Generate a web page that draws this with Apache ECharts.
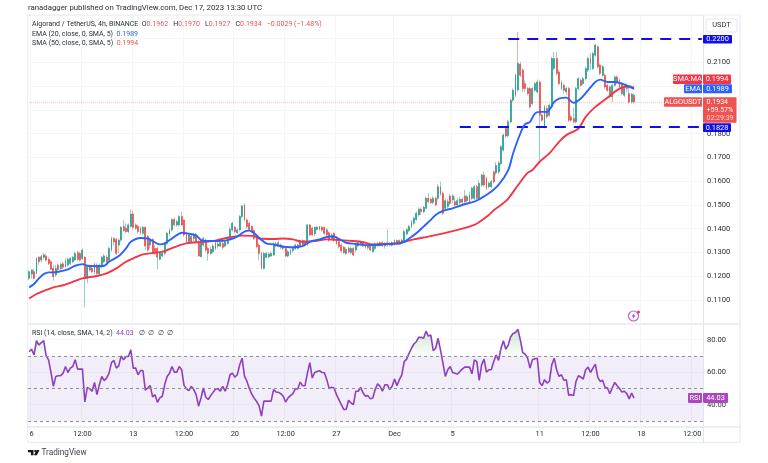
<!DOCTYPE html>
<html><head><meta charset="utf-8">
<style>html,body{margin:0;padding:0;background:#fff}#c{width:768px;height:463px;filter:blur(.3px)}</style>
<script src="https://cdn.jsdelivr.net/npm/echarts@6/dist/echarts.min.js"></script>
</head><body><div id="c"></div>
<script>
const opens=[.1191,.1209,.1219,.1212,.1280,.1268,.1280,.1285,.1271,.1261,
.1233,.1205,.1247,.1233,.1252,.1240,.1247,.1254,.1261,.1268,
.1299,.1296,.1275,.1280,.1191,.1240,.1233,.1219,.1247,.1209,
.1240,.1261,.1280,.1268,.1310,.1359,.1355,.1331,.1352,.1409,
.1402,.1388,.1409,.1462,.1416,.1409,.1402,.1381,.1406,.1367,
.1331,.1355,.1317,.1317,.1271,.1285,.1296,.1338,.1378,.1395,
.1439,.1416,.1416,.1451,.1437,.1381,.1345,.1367,.1359,.1374,
.1345,.1282,.1331,.1352,.1317,.1296,.1303,.1317,.1336,.1327,
.1338,.1327,.1338,.1359,.1395,.1406,.1383,.1395,.1451,.1500,
.1437,.1423,.1409,.1392,.1369,.1331,.1296,.1233,.1280,.1282,
.1285,.1289,.1336,.1327,.1331,.1327,.1317,.1285,.1296,.1308,
.1317,.1317,.1350,.1330,.1347,.1336,.1416,.1402,.1378,.1397,
.1409,.1406,.1406,.1395,.1383,.1355,.1381,.1359,.1345,.1331,
.1322,.1296,.1317,.1299,.1317,.1310,.1327,.1336,.1341,.1331,
.1320,.1325,.1303,.1317,.1338,.1331,.1341,.1327,.1341,.1331,
.1330,.1350,.1338,.1350,.1341,.1350,.1378,.1392,.1409,.1423,
.1439,.1458,.1482,.1472,.1486,.1528,.1524,.1510,.1528,.1528,
.1577,.1549,.1486,.1493,.1538,.1521,.1514,.1500,.1524,.1512,
.1538,.1518,.1542,.1528,.1528,.1577,.1528,.1584,.1626,.1612,
.1577,.1577,.1639,.1635,.1639,.1674,.1731,.1822,.1793,.1850,
.1941,.1962,.1984,.2093,.2068,.2011,.1990,.1990,.1927,.1983,
.1976,.2018,.1878,.1829,.1906,.1878,.1913,.2075,.2117,.2060,
.1990,.2004,.1976,.1990,.1871,.1864,.1850,.1990,.2025,.2011,
.2032,.2068,.2117,.2075,.2131,.2166,.2089,.2046,.2046,.2004,
.1997,.1955,.2004,.2039,.2025,.2011,.1962,.2004,.1969,.1934,.1962];
const closes=[.1219,.1226,.1191,.1275,.1261,.1282,.1289,.1268,.1254,.1229,
.1198,.1233,.1229,.1250,.1238,.1265,.1271,.1275,.1280,.1296,
.1271,.1268,.1310,.1191,.1240,.1226,.1219,.1250,.1212,.1247,
.1280,.1285,.1261,.1317,.1359,.1345,.1296,.1352,.1406,.1392,
.1388,.1416,.1462,.1406,.1402,.1388,.1383,.1406,.1327,.1310,
.1352,.1299,.1303,.1280,.1296,.1296,.1336,.1381,.1395,.1439,
.1416,.1430,.1451,.1416,.1374,.1345,.1374,.1345,.1374,.1345,
.1285,.1350,.1359,.1310,.1296,.1313,.1327,.1341,.1327,.1341,
.1322,.1345,.1359,.1397,.1423,.1388,.1395,.1451,.1496,.1437,
.1409,.1397,.1388,.1359,.1325,.1296,.1233,.1296,.1296,.1293,
.1296,.1336,.1327,.1341,.1322,.1317,.1285,.1303,.1310,.1317,
.1331,.1331,.1327,.1350,.1330,.1416,.1374,.1374,.1406,.1406,
.1397,.1395,.1381,.1374,.1352,.1374,.1352,.1338,.1325,.1306,
.1299,.1313,.1303,.1317,.1289,.1336,.1341,.1345,.1327,.1322,
.1327,.1310,.1325,.1336,.1331,.1341,.1330,.1338,.1331,.1338,
.1341,.1336,.1350,.1338,.1352,.1388,.1397,.1409,.1430,.1444,
.1465,.1482,.1472,.1490,.1528,.1514,.1510,.1528,.1500,.1577,
.1546,.1465,.1518,.1514,.1507,.1538,.1500,.1518,.1510,.1524,
.1514,.1535,.1514,.1570,.1577,.1528,.1591,.1626,.1584,.1570,
.1591,.1598,.1597,.1667,.1677,.1745,.1794,.1790,.1850,.1941,
.1983,.2046,.2096,.2046,.1990,.1990,.1969,.1913,.1990,.2011,
.2018,.1878,.1857,.1913,.1871,.1920,.2117,.2117,.2054,.2011,
.2018,.1983,.1990,.1857,.1857,.1850,.1990,.2032,.2004,.2032,
.2075,.2117,.2096,.2138,.2173,.2082,.2054,.2082,.1997,.1983,
.1955,.2004,.2039,.2018,.1997,.1969,.1997,.1990,.1934,.1966,.1934];
const lows=[.1184,.1191,.1187,.1209,.1247,.1257,.1271,.1261,.1247,.1226,
.1181,.1198,.1219,.1226,.1229,.1233,.1240,.1247,.1254,.1265,
.1265,.1261,.1268,.1069,.1170,.1219,.1212,.1209,.1205,.1201,
.1233,.1254,.1254,.1261,.1303,.1331,.1289,.1296,.1345,.1388,
.1381,.1381,.1406,.1397,.1395,.1381,.1374,.1374,.1310,.1303,
.1317,.1294,.1289,.1229,.1268,.1280,.1289,.1331,.1369,.1388,
.1409,.1409,.1409,.1411,.1367,.1338,.1338,.1338,.1345,.1338,
.1282,.1280,.1325,.1303,.1265,.1289,.1296,.1310,.1317,.1322,
.1313,.1322,.1331,.1352,.1388,.1381,.1378,.1388,.1444,.1430,
.1402,.1392,.1381,.1352,.1317,.1265,.1230,.1230,.1275,.1275,
.1280,.1285,.1322,.1322,.1313,.1310,.1280,.1280,.1289,.1299,
.1310,.1313,.1322,.1324,.1324,.1327,.1367,.1369,.1369,.1392,
.1392,.1388,.1374,.1367,.1345,.1350,.1345,.1331,.1317,.1299,
.1294,.1289,.1296,.1294,.1285,.1303,.1322,.1327,.1322,.1316,
.1313,.1306,.1299,.1310,.1325,.1325,.1322,.1316,.1325,.1325,
.1325,.1330,.1333,.1333,.1336,.1344,.1372,.1386,.1402,.1416,
.1434,.1451,.1458,.1465,.1482,.1507,.1504,.1504,.1496,.1518,
.1538,.1458,.1479,.1486,.1500,.1507,.1493,.1493,.1500,.1504,
.1507,.1510,.1507,.1521,.1521,.1521,.1521,.1577,.1577,.1563,
.1570,.1570,.1590,.1625,.1630,.1667,.1725,.1784,.1786,.1843,
.1934,.1955,.1977,.2039,.1976,.1976,.1962,.1906,.1920,.1976,
.1969,.1689,.1850,.1822,.1864,.1871,.1906,.2068,.2046,.2004,
.1983,.1969,.1962,.1850,.1850,.1843,.1843,.1983,.1997,.2004,
.2025,.2060,.2068,.2068,.2124,.2075,.2046,.2039,.1990,.1976,
.1948,.1934,.1997,.2011,.1990,.1962,.1955,.1976,.1927,.1927,.1927];
const highs=[.1226,.1229,.1229,.1280,.1285,.1289,.1299,.1296,.1280,.1268,
.1247,.1247,.1254,.1257,.1261,.1275,.1280,.1282,.1285,.1303,
.1308,.1303,.1317,.1285,.1247,.1247,.1247,.1257,.1254,.1254,
.1285,.1294,.1289,.1324,.1367,.1364,.1362,.1359,.1411,.1437,
.1423,.1423,.1482,.1476,.1423,.1416,.1409,.1411,.1409,.1374,
.1359,.1359,.1331,.1324,.1303,.1310,.1341,.1388,.1402,.1444,
.1448,.1437,.1458,.1472,.1439,.1388,.1381,.1374,.1381,.1381,
.1352,.1359,.1367,.1359,.1325,.1325,.1336,.1350,.1350,.1350,
.1345,.1352,.1367,.1406,.1430,.1411,.1402,.1458,.1500,.1507,
.1444,.1430,.1416,.1397,.1374,.1338,.1303,.1303,.1303,.1300,
.1303,.1345,.1345,.1350,.1338,.1331,.1324,.1310,.1317,.1324,
.1338,.1336,.1355,.1355,.1352,.1420,.1420,.1409,.1409,.1411,
.1411,.1411,.1409,.1402,.1388,.1381,.1383,.1367,.1352,.1338,
.1327,.1322,.1325,.1325,.1325,.1341,.1350,.1350,.1347,.1338,
.1333,.1330,.1330,.1341,.1344,.1347,.1347,.1344,.1397,.1344,
.1347,.1355,.1355,.1355,.1358,.1395,.1402,.1416,.1437,.1451,
.1472,.1490,.1490,.1496,.1535,.1549,.1532,.1538,.1535,.1588,
.1598,.1556,.1528,.1524,.1546,.1546,.1535,.1528,.1535,.1532,
.1563,.1542,.1556,.1577,.1584,.1584,.1605,.1633,.1640,.1619,
.1598,.1605,.1646,.1681,.1685,.1752,.1801,.1829,.1860,.1948,
.1990,.2053,.2229,.2103,.2075,.2025,.1997,.1997,.1997,.2018,
.2028,.2025,.1885,.1920,.1916,.1927,.2124,.2145,.2145,.2068,
.2025,.2011,.1997,.1997,.1878,.1910,.1997,.2039,.2032,.2039,
.2082,.2124,.2140,.2145,.2180,.2173,.2096,.2089,.2053,.2011,
.2004,.2011,.2046,.2046,.2032,.2018,.2004,.2011,.1997,.1972,.1970];
const ema=[[0,.1153],[2,.1167],[4,.1191],[6,.1209],[8,.1216],[10,.1216],[12,.1219],[16,.1229],[19,.1244],[22,.1251],[24,.1244],[28,.1242],[31,.1244],[33,.1261],[37,.1285],[40,.1317],[42,.1345],[46,.1361],[49,.1359],[51,.1348],[54,.1334],[56,.1338],[59,.1359],[61,.1373],[63,.1383],[66,.1379],[69,.1372],[71,.1352],[74,.1348],[78,.1348],[82,.1352],[86,.1367],[89,.1388],[91,.1392],[93,.1381],[95,.1362],[98,.1338],[101,.1334],[105,.1324],[108,.1322],[113,.1327],[116,.1345],[120,.1355],[124,.1367],[126,.1367],[128,.1357],[131,.1341],[135,.1336],[139,.1331],[144,.1331],[148,.1336],[152,.1336],[155,.1345],[157,.1359],[160,.1381],[163,.1409],[166,.1437],[168,.1458],[171,.1475],[175,.1486],[179,.1500],[184,.1514],[186,.1524],[190,.1549],[194,.1585],[198,.1647],[200,.1717],[203,.1801],[205,.1840],[207,.1850],[209,.1885],[211,.1892],[214,.1892],[217,.1934],[219,.1948],[222,.1952],[225,.1930],[228,.1948],[231,.1983],[234,.2018],[236,.2028],[239,.2018],[242,.2018],[245,.2011],[250,.1989]];
const sma=[[0,.1106],[3,.1125],[7,.1142],[10,.1153],[14,.1162],[19,.1180],[22,.1191],[28,.1201],[32,.1212],[36,.1233],[40,.1261],[44,.1280],[47,.1292],[53,.1300],[56,.1306],[61,.1326],[65,.1338],[71,.1344],[76,.1348],[82,.1362],[88,.1371],[93,.1369],[95,.1359],[101,.1357],[105,.1359],[109,.1355],[113,.1345],[118,.1348],[123,.1355],[129,.1352],[134,.1348],[138,.1343],[142,.1334],[148,.1336],[153,.1341],[159,.1355],[166,.1369],[175,.1390],[184,.1416],[190,.1458],[192,.1478],[195,.1500],[198,.1527],[202,.1583],[206,.1635],[208,.1647],[211,.1682],[215,.1717],[219,.1766],[222,.1794],[227,.1822],[230,.1871],[234,.1913],[239,.1952],[244,.1990],[248,.2000],[250,.1994]];
const rsi=[72.6,74.1,70.6,79.3,76.7,78.1,79.3,70,67.6,59.8,51.3,57.4,57.8,57.8,59.4,63.5,59.8,62.5,63.5,67.6,61.9,61.9,61.9,41.7,50.7,49.7,48.3,53.7,46.2,52.3,57.4,54.8,56.4,59.4,65.9,67.2,62.5,63.9,70,67.6,69.6,69.6,73.7,62.5,62.5,58.4,61,61,48.9,50.3,51.7,44.8,46.2,41.5,44.2,45.2,52.3,57.4,59.4,63.5,60,60,63.5,61.5,51.9,49.9,48.7,51.3,49.3,46.2,39.1,44.2,50.3,44.6,43.2,45.6,47.6,49.7,49.9,48.3,51.3,48.3,52.3,58.4,59.4,57,58.4,64.5,68.6,57.4,54.3,50,46.5,44,42,39.5,33,
42.2,42.2,42.2,42.2,49.3,47.8,47.6,46.8,45.2,41.7,44.2,45.6,46.8,49.7,49.7,53.9,51.7,51.7,59.4,65.9,56.4,59.8,60.4,60.9,59.8,59.6,55.4,49.9,50.7,50.3,46.2,43.2,40.1,37.1,37.1,42.8,41.1,40.1,48.3,48.3,50.7,47.2,45.2,45.6,43.6,44.2,49.3,52.9,51.3,48.3,52.3,52.3,49.3,51.3,55.8,51.7,55.4,58.4,66.5,68,71.6,74.7,77.3,78.7,81.4,81.4,80.8,85.2,82.2,82.8,73.2,74.7,80.8,73.7,65.5,57.4,61.5,63.5,59.8,59.4,58.8,60.4,61.9,63.1,63.1,63.1,59,67.6,66.5,55,64.5,68,60,61.5,61.5,66.5,70.6,67.2,74.7,
79.3,74.1,76.7,81.8,83.8,84.4,86.3,79.8,72,71,68.6,62.5,67.6,68.2,68.6,53.7,51.7,55.4,53.3,54.3,64.5,68.6,61.5,57.4,58.4,55,55.4,45.8,46.2,45.6,54.3,57.8,57,55.8,61.5,63.1,59.8,62.5,64.9,57,54.3,55,50.7,50.3,46.8,50.3,53.7,51.7,49.9,47.8,48.3,46.8,43.6,47.2,44.03];
const timeLabels=['6','12:00','13','12:00','20','12:00','27','Dec','5','11','12:00','18','12:00'];
const timeLabelIdx=[1,22,43,64,85,106,127,151,175,211,232,253,274];
const categories=Array.from({length:279},(_,i)=>new Date(Date.UTC(2023,10,5,20)+i*144e5).toISOString());
const hiddenPriceLabels=['0.1000','0.1900','0.2000','0.2200','0.2300'];
const rsiTicks=[40,60,80];
const resistance=0.22, support=0.1828, lastPrice=0.1934;

const F='Roboto, "Noto Sans", sans-serif';
const INK='#2a2e39',RED='#ef5350',TEAL='#26a69a',BLUE='#2962ff',LINE='#f23645',PUR='#8e3fbf',TAGP='#ab47bc',LV='#eceef5',GRID='#f4f5f8';
const tickOn=i=>timeLabelIdx.indexOf(i)>=0;
const wickData=opens.map((o,i)=>[o,closes[i],lows[i],highs[i]]);
const bodyData=opens.map((o,i)=>[o,closes[i],Math.min(o,closes[i]),Math.max(o,closes[i])]);
const over=rsi.map(v=>Math.max(v,70));

function tag(x,y,w,h,text,bg,color){
  return [{type:'rect',z:50,shape:{x,y,width:w,height:h,r:1},style:{fill:bg}},
    {type:'text',z:51,style:{x:x+w/2,y:y+h/2,text,fill:color||'#fff',font:'7.4px '+F,align:'center',verticalAlign:'middle'}}];
}
function txt(x,y,t,o,z){return {type:'text',z:z||40,style:Object.assign({x,y,text:t,fill:INK,font:'7px '+F,verticalAlign:'middle'},o||{})};}
function hl(x1,y1,x2,y2,w,c){return {type:'line',z:30,shape:{x1,y1,x2,y2},style:{stroke:c||LV,lineWidth:w}};}
const rv={v:{fill:RED,font:'7px '+F}},bv={v:{fill:BLUE,font:'7px '+F}},pv={v:{fill:PUR,font:'7px '+F}};
const LEG='7px '+F;
const graphic=[
 hl(27.5,15,740,15,1.2),hl(27.5,15,27.5,442.5,1.2),hl(740,15,740,442.5,1.5),hl(27.5,442.5,740,442.5,1.5),
 hl(27.5,324,740,324,2),hl(27.5,427,740,427,2),hl(703.5,15,703.5,442.5,1,'#e3e5ed'),
 txt(28,8.5,'ranadagger published on TradingView.com, Dec 17, 2023 13:30 UTC',{font:'7.8px '+F}),
 {type:'text',z:40,style:{x:32,y:24,verticalAlign:'middle',fill:INK,font:LEG,rich:rv,text:'Algorand / TetherUS, 4h, BINANCE  O{v|0.1962}   H{v|0.1970}   L{v|0.1927}   C{v|0.1934}   {v|\u22120.0029 (\u22121.48%)}'}},
 {type:'text',z:40,style:{x:32,y:34,verticalAlign:'middle',fill:INK,font:LEG,rich:bv,text:'EMA (20, close, 0, SMA, 5)  {v|0.1989}'}},
 {type:'text',z:40,style:{x:32,y:43.5,verticalAlign:'middle',fill:INK,font:LEG,rich:rv,text:'SMA (50, close, 0, SMA, 5)  {v|0.1994}'}},
 {type:'text',z:40,style:{x:32,y:333,verticalAlign:'middle',fill:INK,font:LEG,rich:pv,text:'RSI (14, close, SMA, 14, 2)  {v|44.03}   \u2205  \u2205  \u2205  \u2205'}},
 {type:'rect',z:40,shape:{x:706,y:19,width:31,height:13,r:2},style:{fill:'#fff',stroke:'#e6e8ef',lineWidth:1}},
 txt(721.5,25.5,'USDT',{align:'center',font:'7.4px '+F}),
 ...tag(703,35,29,8.5,'0.2200','#0f0fe8'),
 ...tag(673,74.5,29,9.5,'SMA:MA',LINE),...tag(703,74.5,28,9.5,'0.1994',LINE),
 ...tag(684,84.3,18,9,'EMA',BLUE),...tag(703,84.3,29,9,'0.1989',BLUE),
 ...tag(664,97.3,38,9.5,'ALGOUSDT',RED),
 {type:'rect',z:50,shape:{x:703,y:97.3,width:33.5,height:25.5,r:1},style:{fill:RED}},
 txt(706.5,102,'0.1934',{fill:'#fff',font:'7px '+F},51),txt(706.5,110.5,'+59.57%',{fill:'#fff',font:'7px '+F},51),txt(706.5,118,'02:29:39',{fill:'#fbd4d3',font:'7px '+F},51),
 ...tag(703,123.3,28,8.8,'0.1828','#0f0fe8'),
 ...tag(688,393,14,10,'RSI',TAGP),...tag(703,393,25,10,'44.03',TAGP),
 {type:'circle',z:40,shape:{cx:633.5,cy:316,r:5},style:{fill:'#fff',stroke:'#b868cf',lineWidth:1.2}},
 {type:'polygon',z:41,shape:{points:[[634.5,312.8],[631.8,316.4],[633.4,316.4],[632.6,319.2],[635.4,315.4],[633.8,315.4]]},style:{fill:'#9c3fc0'}},
 {type:'circle',z:42,shape:{cx:638.5,cy:312,r:1.5},style:{fill:'#f23645'}},
 {type:'polygon',z:40,shape:{points:[[28,450],[33.5,450],[33.5,455.3],[30.9,455.3],[30.9,452.2],[28,452.2]]},style:{fill:'#131722'}},
 {type:'circle',z:40,shape:{cx:35.2,cy:451.1,r:1.1},style:{fill:'#131722'}},
 {type:'polygon',z:40,shape:{points:[[36.6,450],[39.5,450],[36.8,455.3],[33.9,455.3]]},style:{fill:'#131722'}},
 txt(41.5,452.7,'TradingView',{font:'8.2px '+F,fill:'#3a3e49'})
];

const chart=echarts.init(document.getElementById('c'),null,{renderer:'canvas'});
chart.setOption({
 animation:false,backgroundColor:'#fff',
 grid:[{left:28,top:15,width:675,height:308.7},{left:28,top:325,width:675,height:102}],
 xAxis:[
  {type:'category',gridIndex:0,data:categories,axisLine:{show:false},axisTick:{show:false},axisLabel:{show:false},
   splitLine:{show:true,interval:tickOn,lineStyle:{color:GRID,width:1}}},
  {type:'category',gridIndex:1,data:categories,axisLine:{show:false},axisTick:{show:false},
   splitLine:{show:true,interval:tickOn,lineStyle:{color:GRID,width:1}},
   axisLabel:{interval:tickOn,margin:4,fontSize:7.4,fontFamily:F,color:INK,formatter:(v,i)=>timeLabels[timeLabelIdx.indexOf(i)]||''}}
 ],
 yAxis:[
  {type:'value',gridIndex:0,position:'right',min:0.10,max:0.23,interval:0.01,axisLine:{show:false},axisTick:{show:false},
   splitLine:{lineStyle:{color:GRID,width:1}},
   axisLabel:{margin:4,fontSize:7.6,fontFamily:F,color:INK,formatter:v=>{const s=v.toFixed(4);return hiddenPriceLabels.indexOf(s)>=0?'':s;}}},
  {type:'value',gridIndex:1,position:'right',min:26.33,max:88.97,axisLine:{show:false},axisTick:{show:false,customValues:rsiTicks},
   splitLine:{lineStyle:{color:GRID,width:1}},
   axisLabel:{customValues:rsiTicks,margin:4,fontSize:7.6,fontFamily:F,color:INK,formatter:v=>v.toFixed(2)}}
 ],
 series:[
  {type:'candlestick',name:'wicks',xAxisIndex:0,yAxisIndex:0,data:wickData,barWidth:1,z:2,
   itemStyle:{color:'rgba(239,83,80,.5)',color0:'rgba(38,166,154,.5)',borderColor:'rgba(239,83,80,.5)',borderColor0:'rgba(38,166,154,.5)',borderWidth:1}},
  {type:'candlestick',name:'bodies',xAxisIndex:0,yAxisIndex:0,data:bodyData,barWidth:1.4,z:3,
   itemStyle:{color:TEAL,color0:RED,borderColor:TEAL,borderColor0:RED,borderWidth:.8}},
  {type:'line',name:'EMA 20',xAxisIndex:0,yAxisIndex:0,data:ema,showSymbol:false,smooth:.3,z:5,lineStyle:{color:BLUE,width:1.9},
   markLine:{silent:true,symbol:'none',animation:false,label:{show:false},lineStyle:{color:'#0f0fe8',width:2,type:[11,8]},
     data:[[{coord:[198,resistance]},{coord:[278,resistance]}],[{coord:[178,support]},{coord:[278,support]}]]}},
  {type:'line',name:'SMA 50',xAxisIndex:0,yAxisIndex:0,data:sma,showSymbol:false,smooth:.3,z:4,lineStyle:{color:LINE,width:1.9},
   markLine:{silent:true,symbol:'none',animation:false,label:{show:false},lineStyle:{color:'rgba(239,83,80,.3)',width:1.4,type:[1,1]},data:[[{coord:[0,lastPrice]},{coord:[278,lastPrice]}]]}},
  {type:'line',name:'RSI over',xAxisIndex:1,yAxisIndex:1,data:over,showSymbol:false,lineStyle:{width:0},z:2,
   areaStyle:{origin:70,color:{type:'linear',x:0,y:0,x2:0,y2:1,colorStops:[{offset:0,color:'rgba(76,175,80,.4)'},{offset:1,color:'rgba(76,175,80,.03)'}]}}},
  {type:'line',name:'RSI',xAxisIndex:1,yAxisIndex:1,data:rsi,showSymbol:false,z:4,lineStyle:{color:PUR,width:1.6},
   markArea:{silent:true,animation:false,label:{show:false},itemStyle:{color:'rgba(126,87,194,.1)'},data:[[{yAxis:30},{yAxis:70}]]},
   markLine:{silent:true,symbol:'none',animation:false,label:{show:false},lineStyle:{color:'#8f8f97',width:1,type:[3,3]},data:[{yAxis:70},{yAxis:50},{yAxis:30}]}}
 ],
 graphic:graphic
});
</script></body></html>
